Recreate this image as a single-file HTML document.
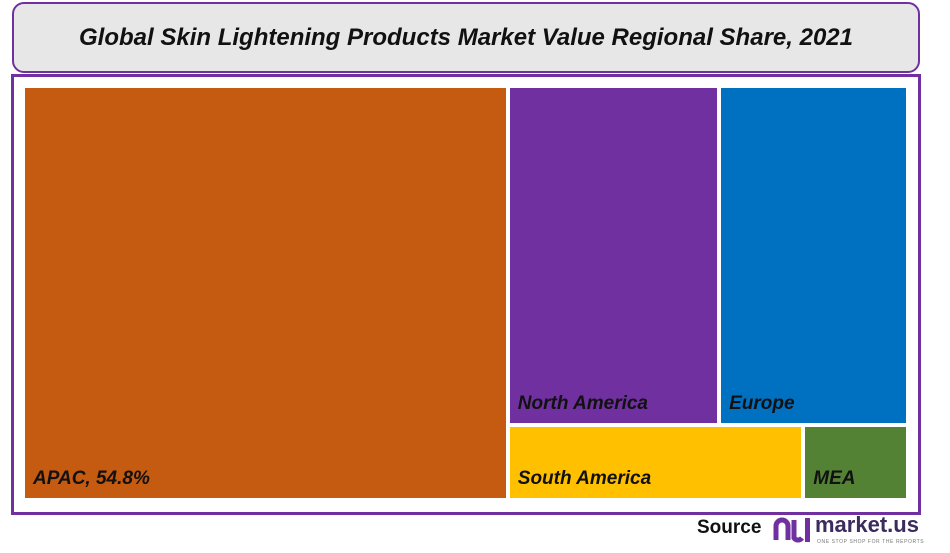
<!DOCTYPE html>
<html><head><meta charset="utf-8"><style>
body{margin:0;width:950px;height:550px;background:#fff;font-family:"Liberation Sans",sans-serif;overflow:hidden;position:relative}
.abs{position:absolute}
#title{left:12px;top:2px;width:904px;height:67px;border:2px solid #7030a0;border-radius:12px;background:#e7e7e7;display:flex;align-items:center;justify-content:center;font-weight:bold;font-style:italic;font-size:24px;color:#111}
#frame{left:11px;top:74px;width:904px;height:435px;border:3px solid #7030a0}
.cell{position:absolute;box-sizing:border-box}
.lbl{position:absolute;left:8px;bottom:8px;font-weight:bold;font-style:italic;font-size:19px;color:#111;white-space:nowrap}
</style></head><body>
<div id="title" class="abs">Global Skin Lightening Products Market Value Regional Share, 2021</div>
<div id="frame" class="abs"></div>
<div id="tm" class="abs" style="left:25px;top:88px;width:881px;height:410px"></div>
<div class="abs" style="left:697px;top:517px;font-weight:bold;font-size:19px;color:#111">Source</div>
<div class="abs" style="left:772px;top:514px;width:40px;height:34px">
<svg width="40" height="34"><path d="M4 26 V12 a6 6 0 0 1 12 0 V26" stroke="#7030a0" stroke-width="5" fill="none"/><path d="M22 6 V24 a5 5 0 0 0 8 0" stroke="#7030a0" stroke-width="5" fill="none"/><rect x="33" y="4" width="5" height="24" fill="#7030a0"/></svg></div>
<div class="abs" style="left:815px;top:512px;font-weight:bold;font-size:22px;color:#3b2b5e">market.us</div>
<div class="abs" style="left:817px;top:539px;font-size:5px;color:#777;letter-spacing:0.6px">ONE STOP SHOP FOR THE REPORTS</div>
<script>
const regions=["APAC","North America","Europe","South America","MEA"];
const shares=[54.8,19.6,17.5,6.0,2.1];
const labels=["APAC, 54.8%","North America","Europe","South America","MEA"];
const colors=["#c55a11","#7030a0","#0070c0","#ffc000","#548235"];
const W=881,H=410,G=4;
const tm=document.getElementById('tm');
const total=shares.reduce((a,b)=>a+b,0);
function cell(i,x,y,w,h){
  const d=document.createElement('div');d.className='cell';
  
  
  d.style.cssText=`left:${x}px;top:${y}px;width:${w}px;height:${h}px;background:${colors[i]}`;
  const l=document.createElement('div');l.className='lbl';l.textContent=labels[i];
  
  
  d.appendChild(l);tm.appendChild(d);
}
const w0=W*shares[0]/total;
cell(0,0,0,w0-G/2,H);
const rx=w0+G/2,rw=W-rx;
const rest=total-shares[0];
const topSum=shares[1]+shares[2],botSum=shares[3]+shares[4];
const hTop=H*topSum/rest;
const wNA=rw*shares[1]/topSum;
cell(1,rx,0,wNA-G/2,hTop-G/2);
cell(2,rx+wNA+G/2,0,rw-wNA-G/2,hTop-G/2);
const wSA=rw*shares[3]/botSum;
cell(3,rx,hTop+G/2,wSA-G/2,H-hTop-G/2);
cell(4,rx+wSA+G/2,hTop+G/2,rw-wSA-G/2,H-hTop-G/2);
</script>
</body></html>
